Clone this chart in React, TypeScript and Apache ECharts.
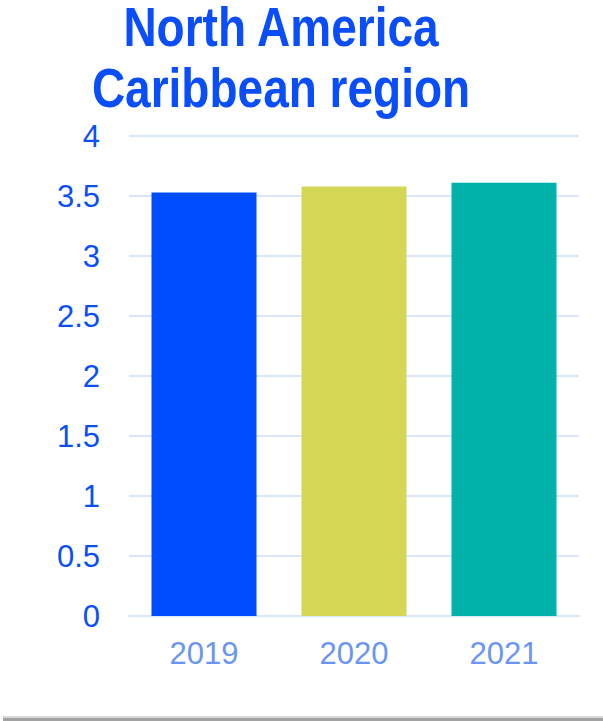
import React, { useEffect, useRef } from "react";
import * as echarts from "echarts";

const categories = ["2019", "2020", "2021"];
const values = [3.53, 3.58, 3.61];
const barColors = ["#004dff", "#d3d755", "#00b2aa"];
const titleLines = ["North America", "Caribbean region"];

export default function App() {
  const ref = useRef<HTMLDivElement>(null);
  useEffect(() => {
    document.body.style.margin = "0";
    const chart = echarts.init(ref.current!, null, { renderer: "svg" });
    const titleFont = "bold 46px 'Liberation Sans', Arial, sans-serif";
    chart.setOption({
      animation: false,
      backgroundColor: "#ffffff",
      grid: { left: 129, right: 24, top: 136, bottom: 105 },
      xAxis: {
        type: "category",
        data: categories,
        axisLine: { show: true, lineStyle: { color: "#dbe5fb", width: 2 } },
        axisTick: { show: false },
        axisLabel: {
          color: "#6a95f5",
          fontSize: 31,
          margin: 22,
          fontFamily: "'Liberation Sans', Arial, sans-serif",
        },
      },
      yAxis: {
        type: "value",
        min: 0,
        max: 4,
        interval: 0.5,
        axisLine: { show: false },
        axisTick: { show: false },
        splitLine: { lineStyle: { color: "#dbe5fb", width: 2 } },
        axisLabel: {
          color: "#0a50f5",
          fontSize: 31,
          margin: 29,
          fontFamily: "'Liberation Sans', Arial, sans-serif",
        },
      },
      series: [
        {
          type: "bar",
          barWidth: "70%",
          data: values.map((v, i) => ({ value: v, itemStyle: { color: barColors[i] } })),
        },
      ],
      graphic: [
        {
          type: "text",
          x: 281,
          y: 27,
          scaleY: 1.22,
          style: {
            text: titleLines[0],
            font: titleFont,
            fill: "#0a4dfa",
            textAlign: "center",
            textVerticalAlign: "middle",
          },
        },
        {
          type: "text",
          x: 281,
          y: 88,
          scaleY: 1.22,
          style: {
            text: titleLines[1],
            font: titleFont,
            fill: "#0a4dfa",
            textAlign: "center",
            textVerticalAlign: "middle",
          },
        },
        { type: "rect", shape: { x: 3, y: 716, width: 600, height: 2 }, style: { fill: "#d8d8d8" } },
        { type: "rect", shape: { x: 3, y: 718, width: 600, height: 3 }, style: { fill: "#a3a3a3" } },
      ],
    });
    return () => chart.dispose();
  }, []);
  return <div ref={ref} style={{ width: 603, height: 721 }} />;
}
